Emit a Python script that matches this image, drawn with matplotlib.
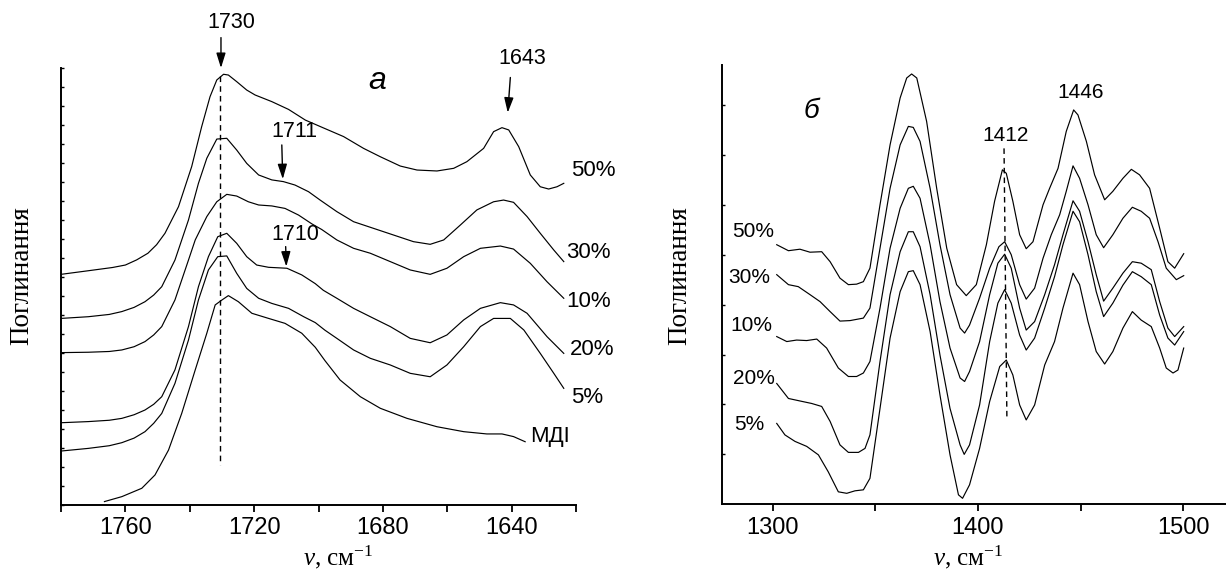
import matplotlib
matplotlib.use('Agg')
import matplotlib.pyplot as plt

plt.rcParams['font.family'] = ['Liberation Sans', 'DejaVu Sans']
plt.rcParams['mathtext.fontset'] = 'custom'
plt.rcParams['mathtext.rm'] = 'Liberation Serif'
plt.rcParams['mathtext.it'] = 'Liberation Serif:italic'

# ---------------- panel "а" (1780-1620 cm-1) ----------------
a50_x = [1780, 1771.5, 1764, 1760, 1756.5, 1753, 1750.3, 1747.7, 1743.5, 1739.4, 1736.3, 1733.7, 1731.6, 1729.5, 1728, 1725.4,
         1722.3, 1719.7, 1714.5, 1709.3, 1704.1, 1699.2, 1692.2, 1686, 1680.8, 1674.6, 1669.4, 1663.2,
         1658, 1653.9, 1648.7, 1645.6, 1643, 1640.9, 1637.8, 1634.2, 1631.1, 1628.5, 1625.9, 1623.8]
a50_y = [12.14, 12.33, 12.5, 12.63, 12.9, 13.25, 13.7, 14.30, 15.70, 17.81, 19.91, 21.49, 22.37, 22.67, 22.63, 22.28,
         21.84, 21.58, 21.23, 20.82, 20.26, 19.9, 19.39, 18.77, 18.33, 17.84, 17.63, 17.58,
         17.72, 18.07, 18.77, 19.65, 19.86, 19.74, 18.86, 17.37, 16.75, 16.63, 16.75, 16.93]

a30_x = [1780, 1771.5, 1765, 1761.1, 1757.3, 1753.9, 1751.2, 1748.7, 1744.6, 1740.4, 1737.3, 1734.7, 1731.6, 1728.5, 1725.4,
         1722.3, 1718.6, 1714.5, 1710.9, 1707.3, 1703.1, 1699.5, 1694.3, 1689.1, 1682.9, 1676.7, 1670.5,
         1665.3, 1661.1, 1655.9, 1650.8, 1645.6, 1642.5, 1639.4, 1635.2, 1631.1, 1626.9, 1623.8]
a30_y = [9.82, 9.91, 10.03, 10.18, 10.4, 10.70, 11.05, 11.49, 12.89, 15.0, 16.93, 18.25, 19.26, 19.30, 18.68,
         17.98, 17.37, 17.11, 17.02, 16.84, 16.49, 16.05, 15.44, 14.91, 14.56, 14.21, 13.86,
         13.72, 13.95, 14.74, 15.53, 15.96, 16.05, 15.93, 15.18, 14.30, 13.42, 12.81]

a10_x = [1780, 1771.5, 1765, 1761.1, 1757.3, 1753.9, 1751.2, 1748.7, 1744.6, 1740.4, 1738.3, 1734.7, 1731.6, 1728.5, 1725.4,
         1721.8, 1718.6, 1714.5, 1710.4, 1706.2, 1702.1, 1699, 1694.3, 1689.1, 1683.9, 1677.7, 1671.5,
         1665.3, 1660.1, 1654.9, 1649.7, 1643.5, 1639.4, 1634.2, 1629.0, 1623.8]
a10_y = [8.02, 8.04, 8.08, 8.16, 8.33, 8.60, 8.95, 9.39, 10.79, 12.89, 13.95, 15.18, 15.96, 16.35, 16.26,
         15.96, 15.79, 15.74, 15.61, 15.26, 14.8, 14.5, 13.95, 13.51, 13.25, 12.81, 12.37,
         12.14, 12.46, 13.07, 13.51, 13.63, 13.47, 12.72, 11.75, 10.88]

a20_x = [1780, 1771.5, 1765, 1761.1, 1757.3, 1753.9, 1751.2, 1748.7, 1744.6, 1740.4, 1737.3, 1734.2, 1731.3, 1728.5, 1725.4,
         1722.3, 1719.2, 1715.5, 1709.8, 1705.2, 1701, 1698.5, 1694.3, 1689.1, 1683.9, 1677.7, 1671.5,
         1665.3, 1660.1, 1654.9, 1649.7, 1643.5, 1639.4, 1635.2, 1629.0, 1623.8]
a20_y = [4.33, 4.39, 4.46, 4.56, 4.75, 5.0, 5.3, 5.70, 7.11, 9.39, 11.49, 13.07, 14.12, 14.30, 13.77,
         13.07, 12.63, 12.51, 12.46, 12.11, 11.65, 11.3, 10.88, 10.35, 9.91, 9.39, 8.77,
         8.54, 8.95, 9.74, 10.35, 10.65, 10.53, 10.09, 8.86, 7.98]

a5_x = [1780, 1771.5, 1765, 1761.1, 1757.3, 1753.9, 1751.2, 1748.7, 1744.6, 1740.4, 1737.3, 1734.2, 1731.3, 1728.5, 1725.4,
        1722.3, 1718.6, 1714.5, 1709.3, 1704.6, 1701, 1698, 1694.3, 1689.1, 1683.9, 1677.7, 1671.5,
        1665.3, 1660.1, 1654.9, 1649.7, 1645.6, 1640.4, 1636.2, 1631.1, 1626.9, 1623.8]
a5_y = [2.84, 2.98, 3.12, 3.28, 3.52, 3.86, 4.3, 4.82, 6.40, 8.68, 10.79, 12.37, 13.07, 13.11, 12.19,
        11.40, 10.88, 10.61, 10.35, 9.91, 9.6, 9.2, 8.77, 8.16, 7.72, 7.37, 6.93,
        6.75, 7.37, 8.33, 9.39, 9.82, 9.82, 9.21, 7.98, 6.93, 6.14]

amdi_x = [1766.5, 1761.1, 1754.9, 1750.8, 1746.6, 1742.5, 1738.3, 1734.7, 1732.1, 1730.0, 1728.0, 1724.9,
          1720.7, 1715.5, 1710.4, 1705.2, 1701, 1698, 1693.3, 1687.0, 1680.8, 1672.5, 1663.2, 1654.9,
          1647.7, 1643.0, 1639.4, 1635.8]
amdi_y = [0.18, 0.44, 0.88, 1.58, 2.89, 4.82, 7.11, 9.04, 10.53, 10.79, 11.02, 10.70,
          10.09, 9.82, 9.56, 9.04, 8.3, 7.6, 6.58, 5.70, 5.09, 4.56, 4.12, 3.86,
          3.74, 3.74, 3.60, 3.33]

a_labels = ['50%', '30%', '10%', '20%', '5%', 'МДІ']
a_label_x = [1614.5, 1616.1, 1616.0, 1615.0, 1616.6, 1628.0]
a_label_y = [17.6, 13.3, 10.7, 8.16, 5.67, 3.6]
a_xticks = [1760, 1720, 1680, 1640]
a_minor = [1780, 1740, 1700, 1660, 1620]

# ---------------- panel "б" (1275-1521 cm-1) ----------------
b50_x = [1302.0, 1307.7, 1313.3, 1318.2, 1323.9, 1328.0, 1332.8, 1336.9, 1340.9, 1344.2, 1347.4, 1352.3,
         1357.2, 1362.1, 1365.3, 1367.7, 1370.2, 1375.0, 1379.9, 1384.8, 1389.6, 1394.3, 1399.2, 1404.1,
         1408.1, 1411.9, 1413.8, 1417.0, 1420.3, 1423.5, 1426.8, 1431.7, 1434.9, 1439.0, 1443.0, 1446.6,
         1448.7, 1452.8, 1456.8, 1461.7, 1465.7, 1470.6, 1474.7, 1478.7, 1483.6, 1488.5, 1492.5, 1495.8, 1500.2]
b50_y = [5.20, 5.08, 5.11, 5.05, 5.06, 4.86, 4.53, 4.40, 4.41, 4.46, 4.73, 6.0,
         7.20, 8.14, 8.54, 8.62, 8.54, 7.67, 6.33, 5.13, 4.40, 4.18, 4.40, 5.20,
         6.07, 6.70, 6.63, 6.07, 5.40, 5.12, 5.26, 6.00, 6.33, 6.73, 7.47, 7.90,
         7.80, 7.27, 6.60, 6.10, 6.27, 6.53, 6.71, 6.60, 6.33, 5.53, 4.86, 4.73, 5.02]

b30_x = [1302.0, 1307.7, 1312.5, 1318.2, 1323.1, 1328.0, 1332.8, 1337.7, 1344.2, 1347.4, 1352.3, 1357.2,
         1362.1, 1366.1, 1368.5, 1371.8, 1376.7, 1381.5, 1386.4, 1391.3, 1393.5, 1395.9, 1400.8, 1405.7,
         1410.2, 1413.0, 1416.2, 1420.3, 1423.5, 1427.6, 1431.7, 1435.7, 1439.8, 1443.0, 1446.3, 1449.5,
         1453.6, 1457.6, 1461.2, 1465.7, 1470.6, 1475.2, 1479.5, 1483.6, 1487.7, 1491.7, 1496.6, 1500.2]
b30_y = [4.60, 4.40, 4.36, 4.20, 4.06, 3.86, 3.67, 3.68, 3.73, 3.93, 5.13, 6.33,
         7.20, 7.57, 7.55, 7.27, 6.33, 5.20, 4.20, 3.53, 3.43, 3.59, 4.13, 4.73,
         5.16, 5.26, 5.00, 4.40, 4.11, 4.33, 4.93, 5.40, 5.80, 6.27, 6.78, 6.53,
         6.00, 5.40, 5.14, 5.40, 5.73, 5.95, 5.87, 5.73, 5.26, 4.73, 4.50, 4.58]

b10_x = [1302.0, 1306.9, 1311.7, 1316.6, 1321.5, 1326.3, 1332.0, 1336.9, 1340.9, 1344.2, 1347.4, 1352.3,
         1357.2, 1362.1, 1366.1, 1368.5, 1371.8, 1376.7, 1381.5, 1386.4, 1391.3, 1393.5, 1395.9, 1400.8,
         1405.7, 1409.7, 1413.0, 1416.2, 1420.3, 1423.5, 1427.6, 1432.5, 1437.3, 1441.4, 1446.3, 1449.5,
         1453.6, 1457.6, 1461.2, 1465.7, 1470.6, 1475.2, 1479.5, 1484.4, 1488.5, 1492.5, 1495.8, 1500.2]
b10_y = [3.36, 3.26, 3.29, 3.28, 3.31, 3.13, 2.73, 2.56, 2.56, 2.63, 2.86, 3.93,
         5.13, 5.93, 6.33, 6.37, 6.13, 5.20, 4.06, 3.13, 2.53, 2.46, 2.66, 3.26,
         4.20, 4.83, 5.01, 4.73, 3.93, 3.49, 3.66, 4.20, 4.80, 5.40, 6.08, 5.87,
         5.26, 4.60, 4.07, 4.33, 4.63, 4.86, 4.83, 4.70, 4.06, 3.53, 3.36, 3.56]

b20_x = [1302.0, 1307.7, 1313.3, 1319.0, 1323.9, 1328.0, 1332.8, 1336.9, 1341.8, 1345.0, 1347.4, 1352.3,
         1357.2, 1362.1, 1366.1, 1368.5, 1371.8, 1376.7, 1381.5, 1386.4, 1391.3, 1393.3, 1395.9, 1400.8,
         1405.7, 1409.7, 1413.0, 1416.2, 1420.3, 1423.5, 1427.6, 1432.5, 1437.3, 1441.4, 1446.3, 1449.5,
         1453.6, 1457.6, 1461.2, 1465.7, 1470.6, 1475.2, 1479.5, 1484.4, 1488.5, 1492.5, 1495.8, 1500.2]
b20_y = [2.42, 2.12, 2.07, 2.02, 1.96, 1.66, 1.19, 1.04, 1.04, 1.12, 1.39, 2.86,
         4.20, 5.06, 5.46, 5.46, 5.16, 4.20, 2.99, 1.92, 1.19, 1.0, 1.19, 1.99,
         3.26, 4.03, 4.30, 4.03, 3.39, 3.09, 3.33, 3.93, 4.56, 5.20, 5.87, 5.66,
         5.00, 4.26, 3.76, 4.03, 4.39, 4.66, 4.56, 4.40, 3.79, 3.33, 3.19, 3.46]

b5_x = [1302.0, 1306.0, 1310.9, 1316.6, 1322.3, 1327.1, 1332.0, 1336.1, 1340.1, 1344.2, 1347.4, 1352.3,
        1357.2, 1362.1, 1366.1, 1368.5, 1371.8, 1376.7, 1381.5, 1386.4, 1390.5, 1392.5, 1395.9, 1400.8,
        1405.7, 1410.6, 1413.8, 1417.0, 1420.3, 1423.5, 1427.6, 1432.5, 1437.3, 1441.4, 1446.3, 1449.5,
        1453.6, 1457.6, 1461.7, 1465.7, 1470.6, 1475.2, 1479.5, 1484.4, 1488.5, 1491.7, 1495.0, 1497.4, 1500.2]
b5_y = [1.62, 1.39, 1.26, 1.16, 0.99, 0.65, 0.25, 0.22, 0.27, 0.29, 0.52, 1.92,
        3.33, 4.26, 4.66, 4.68, 4.40, 3.46, 2.19, 0.99, 0.19, 0.12, 0.39, 1.12,
        2.06, 2.76, 2.89, 2.59, 1.99, 1.69, 1.99, 2.79, 3.26, 3.93, 4.63, 4.40,
        3.66, 3.06, 2.81, 3.06, 3.53, 3.86, 3.69, 3.56, 3.13, 2.73, 2.63, 2.69, 3.13]

b_labels = ['50%', '30%', '10%', '20%', '5%']
b_label_x = [1290.6, 1288.7, 1289.8, 1290.9, 1288.7]
b_label_y = [5.46, 4.54, 3.58, 2.53, 1.60]
b_xticks = [1300, 1400, 1500]
b_minor = [1350, 1450]

W, H = 1226, 572
fig = plt.figure(figsize=(W / 100, H / 100), dpi=100)
axL = fig.add_axes([61 / W, (H - 505) / H, 515 / W, 437 / H])
axR = fig.add_axes([721.7 / W, (H - 504.3) / H, 504.3 / W, 439.3 / H])

LW = 0.85
for xs, ys in [(a50_x, a50_y), (a30_x, a30_y), (a10_x, a10_y), (a20_x, a20_y), (a5_x, a5_y), (amdi_x, amdi_y)]:
    axL.plot(xs, ys, color='black', lw=LW, solid_joinstyle='round')
for xs, ys in [(b50_x, b50_y), (b30_x, b30_y), (b10_x, b10_y), (b20_x, b20_y), (b5_x, b5_y)]:
    axR.plot(xs, ys, color='black', lw=LW, solid_joinstyle='round')

axL.set_xlim(1780, 1620)
axL.set_ylim(0, 23)
axR.set_xlim(1275.2, 1520.8)
axR.set_ylim(0, 8.8)

axL.set_xticks(a_xticks)
axL.set_xticks(a_minor, minor=True)
axL.set_yticks(range(0, 24))
axR.set_xticks(b_xticks)
axR.set_xticks(b_minor, minor=True)
axR.set_yticks(range(1, 9))

for ax in (axL, axR):
    for s in ('top', 'right'):
        ax.spines[s].set_visible(False)
    for s in ('left', 'bottom'):
        ax.spines[s].set_linewidth(1.4)
    ax.tick_params(axis='x', which='both', direction='out', length=4.8, width=1.3,
                   labelsize=17, pad=4)
    ax.tick_params(axis='y', which='both', direction='in', length=1.8, width=1.0,
                   labelleft=False)
    ax.patch.set_alpha(0)

# labels of series
for t, x, y in zip(a_labels, a_label_x, a_label_y):
    axL.text(x, y, t, fontsize=16, ha='center', va='center')
for t, x, y in zip(b_labels, b_label_x, b_label_y):
    axR.text(x, y, t, fontsize=15, ha='center', va='center')

# panel letters
axL.text(1681.7, 22.3, 'а', fontsize=23, style='italic', ha='center', va='center')
axR.text(1319.0, 7.87, 'б', fontsize=20, style='italic', ha='center', va='center')

# dashed guides
axL.plot([1730.6, 1730.6], [22.6, 2.1], color='black', lw=1.0, ls=(0, (4, 3)))
axR.plot([1412.7, 1414.1], [7.13, 1.69], color='black', lw=1.0, ls=(0, (4, 3)))

# arrows + peak labels
arr = dict(arrowstyle='-|>,head_length=0.9,head_width=0.28', color='black', lw=1.0,
           mutation_scale=10, shrinkA=0, shrinkB=0)
axL.annotate('', xy=(1730.3, 23.0), xytext=(1730.3, 24.6), arrowprops=arr, annotation_clip=False)
axL.text(1727.1, 25.4, '1730', fontsize=15.5, ha='center', va='center', clip_on=False)
axL.annotate('', xy=(1641.2, 20.65), xytext=(1640.4, 22.5), arrowprops=arr)
axL.text(1636.7, 23.5, '1643', fontsize=15.5, ha='center', va='center')
axL.annotate('', xy=(1711.1, 17.15), xytext=(1711.4, 18.95), arrowprops=arr)
axL.text(1707.4, 19.65, '1711', fontsize=15.5, ha='center', va='center')
axL.annotate('', xy=(1710.0, 12.55), xytext=(1710.2, 13.6), arrowprops=arr)
axL.text(1707.3, 14.26, '1710', fontsize=15.5, ha='center', va='center')

axR.text(1413.3, 7.39, '1412', fontsize=15, ha='center', va='center')
axR.text(1449.8, 8.24, '1446', fontsize=15, ha='center', va='center')

# axis titles
for xc in (22, 680):
    fig.text(xc / W, 1 - 276 / H, 'Поглинання', rotation=90, family='Liberation Serif',
             fontsize=19.5, ha='center', va='center')
for xc in (338, 968):
    fig.text(xc / W, 1 - 557 / H, r'$\nu$, см$^{-1}$', family='Liberation Serif',
             fontsize=18, ha='center', va='center')

fig.savefig('out.png', dpi=100)
